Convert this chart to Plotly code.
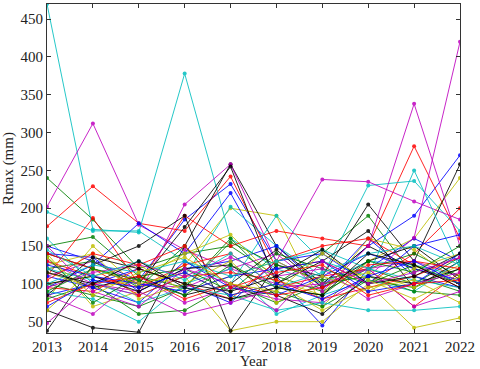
import plotly.graph_objects as go

# Annual maximum rainfall (Rmax, mm) per station, 2013-2022
years = [2013, 2014, 2015, 2016, 2017, 2018, 2019, 2020, 2021, 2022]

blue = [
    [150, 130, 105, 185, 232, 130, 100, 150, 190, 270],
    [95, 125, 180, 140, 220, 110, 45, 120, 160, 130],
    [140, 135, 90, 120, 130, 150, 95, 160, 110, 95],
    [85, 100, 120, 100, 75, 130, 140, 100, 150, 165],
    [110, 95, 75, 130, 95, 85, 110, 140, 120, 105],
    [125, 110, 100, 90, 110, 120, 130, 90, 100, 140],
    [70, 105, 95, 115, 85, 100, 80, 110, 130, 100],
]
green = [
    [240, 185, 120, 140, 150, 110, 90, 120, 100, 135],
    [150, 162, 110, 95, 160, 100, 140, 190, 110, 90],
    [100, 85, 70, 95, 155, 125, 105, 120, 140, 110],
    [120, 130, 95, 150, 80, 90, 70, 105, 95, 120],
    [80, 100, 60, 65, 100, 75, 100, 110, 90, 85],
    [135, 75, 110, 120, 90, 140, 120, 100, 125, 100],
    [90, 120, 105, 85, 125, 95, 85, 130, 115, 150],
]
red = [
    [176, 229, 180, 170, 242, 120, 130, 100, 140, 200],
    [110, 187, 100, 190, 150, 170, 160, 150, 282, 160],
    [130, 110, 95, 125, 140, 95, 110, 120, 70, 115],
    [95, 90, 120, 100, 80, 130, 150, 160, 125, 95],
    [140, 120, 85, 110, 115, 105, 80, 95, 110, 135],
    [75, 100, 110, 80, 100, 85, 95, 125, 130, 120],
    [105, 140, 125, 150, 95, 115, 125, 85, 100, 105],
]
cyan = [
    [470, 172, 168, 378, 160, 120, 100, 130, 125, 110],
    [160, 100, 85, 110, 202, 150, 110, 230, 236, 170],
    [195, 170, 170, 130, 100, 190, 130, 110, 250, 120],
    [90, 80, 50, 100, 120, 60, 85, 105, 90, 130],
    [120, 105, 75, 95, 85, 65, 75, 65, 65, 70],
    [100, 125, 115, 130, 110, 130, 145, 120, 105, 95],
    [145, 110, 130, 105, 140, 95, 115, 140, 150, 125],
]
magenta = [
    [202, 312, 178, 145, 120, 100, 95, 120, 130, 110],
    [130, 100, 85, 205, 258, 130, 238, 235, 209, 185],
    [110, 130, 100, 95, 120, 140, 90, 150, 338, 150],
    [85, 60, 110, 75, 95, 80, 75, 110, 161, 420],
    [48, 100, 90, 60, 75, 95, 100, 120, 70, 90],
    [95, 115, 125, 110, 135, 110, 120, 80, 100, 115],
    [150, 90, 70, 120, 100, 65, 130, 100, 115, 135],
]
yellow = [
    [140, 70, 90, 125, 200, 190, 70, 130, 160, 240],
    [80, 150, 95, 110, 38, 50, 50, 100, 42, 55],
    [115, 95, 105, 140, 165, 105, 85, 160, 145, 100],
    [100, 110, 125, 90, 110, 130, 100, 115, 95, 125],
    [125, 140, 80, 100, 130, 75, 110, 90, 120, 140],
    [65, 120, 100, 115, 85, 100, 65, 95, 105, 75],
    [135, 85, 115, 135, 100, 90, 140, 105, 80, 110],
]
black = [
    [65, 42, 36, 150, 258, 150, 100, 150, 120, 100],
    [38, 125, 150, 190, 38, 125, 110, 205, 130, 258],
    [140, 120, 100, 175, 255, 100, 130, 170, 95, 130],
    [120, 95, 110, 85, 100, 145, 95, 130, 150, 105],
    [100, 110, 90, 120, 125, 85, 60, 110, 100, 120],
    [85, 135, 120, 100, 90, 110, 145, 100, 110, 140],
    [115, 100, 130, 95, 80, 95, 85, 140, 125, 95],
]

groups = [
    (blue, "#0000ff"),
    (green, "#008000"),
    (red, "#ff0000"),
    (cyan, "#00bfbf"),
    (magenta, "#bf00bf"),
    (yellow, "#bfbf00"),
    (black, "#000000"),
]

SERIF = "Times New Roman, Liberation Serif, DejaVu Serif, serif"

fig = go.Figure()

# interleave colours like MATLAB's colour order
for i in range(7):
    for series, color in groups:
        fig.add_trace(go.Scatter(
            x=years, y=series[i], mode="lines+markers",
            line=dict(color=color, width=1),
            marker=dict(color=color, size=4),
            opacity=0.85,
            showlegend=False,
        ))

axis_style = dict(
    showline=True, linecolor="#333", linewidth=1, mirror="ticks",
    ticks="inside", ticklen=4, tickcolor="#333",
    showgrid=False, zeroline=False,
    tickfont=dict(family=SERIF, size=15, color="#222"),
)

fig.update_layout(
    width=480, height=369,
    margin=dict(l=47, r=20, t=3, b=35),
    font=dict(family=SERIF),
    plot_bgcolor="white", paper_bgcolor="white",
    xaxis=dict(range=[2013, 2022], tickmode="array", tickvals=years,
               title=dict(text="Year", standoff=0,
                          font=dict(family=SERIF, size=15, color="#222")),
               **axis_style),
    yaxis=dict(range=[35, 470], tickvals=[50, 100, 150, 200, 250, 300, 350, 400, 450],
               title=dict(text="Rmax (mm)", standoff=4,
                          font=dict(family=SERIF, size=15, color="#222")),
               **axis_style),
)

# drop the page margin so the 480x369 figure fills the window exactly
fig.write_html("out.html", config={"displayModeBar": False},
               post_script="document.body.style.margin='0';")
